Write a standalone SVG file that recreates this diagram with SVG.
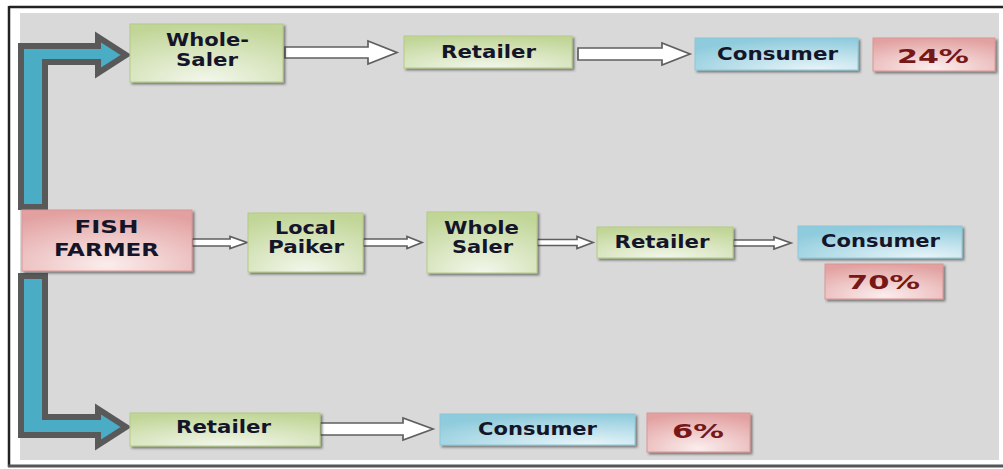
<svg xmlns="http://www.w3.org/2000/svg" width="1003" height="469" viewBox="0 0 1003 469">
<defs>
<style>
.lbl{font-family:"DejaVu Sans","Verdana",sans-serif;font-weight:bold;font-size:17px;fill:#15152a;text-anchor:middle}
.pct{font-family:"DejaVu Sans","Verdana",sans-serif;font-weight:bold;font-size:19.5px;fill:#761818;text-anchor:middle}
.green{fill:url(#gG);stroke:#b3cb86;stroke-width:1;filter:url(#sh)}
.blue{fill:url(#gB);stroke:#8cc8d8;stroke-width:1;filter:url(#sh)}
.red{fill:url(#gR);stroke:#d99694;stroke-width:1;filter:url(#sh)}
.harrow{fill:#ffffff;stroke:#5f5f5f;stroke-width:1.7;stroke-linejoin:miter}
.barrow{fill:#4bacc6;stroke:#595959;stroke-width:6;stroke-linejoin:miter}
</style>
<radialGradient id="gG" cx="0.5" cy="1" r="1">
<stop offset="0" stop-color="#f3f7ec"/>
<stop offset="1" stop-color="#c0d596"/>
</radialGradient>
<radialGradient id="gB" cx="0.75" cy="1" r="1">
<stop offset="0" stop-color="#e9f5f9"/>
<stop offset="1" stop-color="#8ecbdc"/>
</radialGradient>
<radialGradient id="gR" cx="0.5" cy="0.9" r="0.9">
<stop offset="0" stop-color="#fbeded"/>
<stop offset="1" stop-color="#e2a0a0"/>
</radialGradient>
<filter id="sh" x="-10%" y="-10%" width="130%" height="150%">
<feDropShadow dx="2" dy="2" stdDeviation="1" flood-color="#333333" flood-opacity="0.55"/>
</filter>
</defs>

<rect x="0" y="0" width="1003" height="469" fill="#ffffff"/>
<rect x="20" y="13" width="979" height="447" fill="#d9d9d9"/>
<g id="frame" fill="none">
<line x1="9" y1="7" x2="1003" y2="7" stroke="#222222" stroke-width="2.5"/>
<line x1="9" y1="6" x2="9" y2="467" stroke="#222222" stroke-width="2.5"/>
<line x1="8" y1="466" x2="1003" y2="466" stroke="#555555" stroke-width="3"/>
</g>

<g id="connectors">
<polygon class="barrow" points="21,207 21,46 98,46 98,37 126,55 98,73 98,62 45,62 45,207"/>
<polygon class="barrow" points="21,276 45,276 45,417 98,417 98,409 126,427 98,445 98,435 21,435"/>
<polygon class="harrow" points="285,47 368,47 368,41 397,52.5 368,64 368,58 285,58"/>
<polygon class="harrow" points="578,48 662,48 662,43 690,54 662,65 662,60 578,60"/>
<polygon class="harrow" points="320,423 403,423 403,418 433,429 403,440 403,435 320,435"/>
<polygon class="harrow" points="192,239 230,239 230,236.5 247,242.5 230,248.5 230,246 192,246"/>
<polygon class="harrow" points="363,239 407,239 407,236.5 422,242.5 407,248.5 407,246 363,246"/>
<polygon class="harrow" points="537,239.5 577,239.5 577,236.5 593,242.5 577,248.5 577,245.5 537,245.5"/>
<polygon class="harrow" points="733,240 774,240 774,237 791,243 774,249 774,246 733,246"/>
</g>

<g id="fish-farmer">
<rect class="red" x="22" y="210" width="170" height="61"/>
<text class="lbl" x="106.5" y="233" textLength="64" lengthAdjust="spacingAndGlyphs">FISH</text>
<text class="lbl" x="106.5" y="256" textLength="105" lengthAdjust="spacingAndGlyphs">FARMER</text>
</g>

<g id="top-wholesaler">
<rect class="green" x="130" y="24" width="153" height="58"/>
<text class="lbl" x="207.5" y="46" textLength="83" lengthAdjust="spacingAndGlyphs">Whole-</text>
<text class="lbl" x="207" y="65.5" textLength="62" lengthAdjust="spacingAndGlyphs">Saler</text>
</g>
<g id="top-retailer">
<rect class="green" x="404" y="36" width="168" height="32"/>
<text class="lbl" x="488.5" y="57.5" textLength="95" lengthAdjust="spacingAndGlyphs">Retailer</text>
</g>
<g id="top-consumer">
<rect class="blue" x="695" y="38" width="163" height="32"/>
<text class="lbl" x="777.5" y="59.5" textLength="121" lengthAdjust="spacingAndGlyphs">Consumer</text>
</g>
<g id="pct-24">
<rect class="red" x="873" y="38" width="122" height="33"/>
<text class="pct" x="933" y="63" textLength="72" lengthAdjust="spacingAndGlyphs">24%</text>
</g>

<g id="local-paiker">
<rect class="green" x="248" y="213" width="115" height="59"/>
<text class="lbl" x="305.5" y="234" textLength="61" lengthAdjust="spacingAndGlyphs">Local</text>
<text class="lbl" x="306" y="253" textLength="76" lengthAdjust="spacingAndGlyphs">Paiker</text>
</g>
<g id="mid-wholesaler">
<rect class="green" x="427" y="212" width="110" height="61"/>
<text class="lbl" x="481.5" y="234" textLength="75" lengthAdjust="spacingAndGlyphs">Whole</text>
<text class="lbl" x="482.5" y="253" textLength="61" lengthAdjust="spacingAndGlyphs">Saler</text>
</g>
<g id="mid-retailer">
<rect class="green" x="597" y="227" width="136" height="31"/>
<text class="lbl" x="662" y="248" textLength="95" lengthAdjust="spacingAndGlyphs">Retailer</text>
</g>
<g id="mid-consumer">
<rect class="blue" x="798" y="226" width="164" height="32"/>
<text class="lbl" x="880.5" y="247" textLength="119" lengthAdjust="spacingAndGlyphs">Consumer</text>
</g>
<g id="pct-70">
<rect class="red" x="825" y="264" width="118" height="35"/>
<text class="pct" x="883.5" y="289" textLength="73" lengthAdjust="spacingAndGlyphs">70%</text>
</g>

<g id="bottom-retailer">
<rect class="green" x="130" y="413" width="190" height="33"/>
<text class="lbl" x="223.5" y="433" textLength="95" lengthAdjust="spacingAndGlyphs">Retailer</text>
</g>
<g id="bottom-consumer">
<rect class="blue" x="440" y="414" width="195" height="31"/>
<text class="lbl" x="537.5" y="434.5" textLength="119" lengthAdjust="spacingAndGlyphs">Consumer</text>
</g>
<g id="pct-6">
<rect class="red" x="647" y="413" width="103" height="39"/>
<text class="pct" x="698" y="438" textLength="52" lengthAdjust="spacingAndGlyphs">6%</text>
</g>
</svg>
